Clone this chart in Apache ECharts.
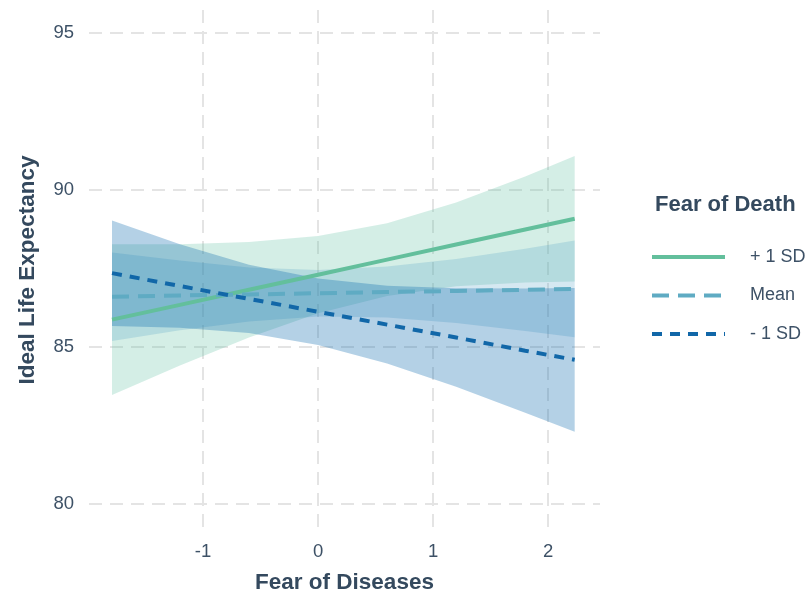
<!DOCTYPE html>
<html>
<head>
<meta charset="utf-8">
<script src="https://cdn.jsdelivr.net/npm/echarts@6/dist/echarts.min.js"></script>
<style>
html,body{margin:0;padding:0;background:#ffffff;}
#chart{width:808px;height:595px;}
</style>
</head>
<body>
<div id="chart"></div>
<script>
// Fear of Diseases (x) sample points
const xVals = [-1.79, -1.2, -0.6, 0, 0.6, 1.2, 1.8, 2.23];

// + 1 SD
const plusLine = [85.87, 86.34, 86.82, 87.30, 87.78, 88.26, 88.74, 89.08];
const plusLow  = [83.47, 84.41, 85.30, 86.07, 86.62, 86.93, 87.05, 87.08];
const plusHigh = [88.27, 88.27, 88.34, 88.53, 88.94, 89.60, 90.43, 91.08];

// Mean
const meanLine = [86.60, 86.64, 86.67, 86.71, 86.75, 86.78, 86.82, 86.85];
const meanLow  = [85.19, 85.53, 85.81, 85.97, 85.94, 85.76, 85.51, 85.31];
const meanHigh = [88.01, 87.75, 87.53, 87.45, 87.56, 87.80, 88.13, 88.39];

// - 1 SD
const minusLine = [87.35, 86.94, 86.53, 86.12, 85.71, 85.30, 84.88, 84.59];
const minusLow  = [85.67, 85.61, 85.44, 85.06, 84.47, 83.73, 82.90, 82.30];
const minusHigh = [89.03, 88.27, 87.62, 87.18, 86.95, 86.87, 86.86, 86.88];

const xTicks = [-1, 0, 1, 2];
const yTicks = [80, 85, 90, 95];
const seriesNames = ['+ 1 SD', 'Mean', '- 1 SD'];

const colors = ['#63bf9c', '#5fabc3', '#1167a8'];
const bandColors = ['rgba(102,194,164,0.28)', 'rgba(80,160,195,0.24)', 'rgba(8,104,172,0.30)'];

const FONT = '"Liberation Sans", Arial, sans-serif';
const TITLE_COLOR = '#34495e';
const LABEL_COLOR = '#3d5166';

function pairs(xs, ys) { return xs.map((x, i) => [x, ys[i]]); }

function bandSeries(low, high, color, z) {
  return {
    type: 'custom',
    silent: true,
    z: z,
    data: [[xVals[0], low[0]]],
    renderItem: function (params, api) {
      const pts = [];
      for (let i = 0; i < xVals.length; i++) pts.push(api.coord([xVals[i], high[i]]));
      for (let i = xVals.length - 1; i >= 0; i--) pts.push(api.coord([xVals[i], low[i]]));
      return { type: 'polygon', shape: { points: pts }, style: { fill: color, stroke: null } };
    }
  };
}

const chart = echarts.init(document.getElementById('chart'), null, { renderer: 'canvas' });

const gridLine = { show: true, lineStyle: { color: '#e4e4e4', width: 2, type: [13, 8] } };

chart.setOption({
  backgroundColor: '#ffffff',
  animation: false,
  title: {
    text: 'Fear of Death',
    left: 650, top: 189,
    textStyle: { fontFamily: FONT, fontSize: 22, fontWeight: 'bold', color: TITLE_COLOR }
  },
  legend: {
    orient: 'vertical',
    left: 645, top: 243,
    itemWidth: 73, itemHeight: 18, itemGap: 20.5,
    data: seriesNames,
    itemStyle: { opacity: 0, borderWidth: 0 },
    lineStyle: { width: 4 },
    textStyle: { fontFamily: FONT, fontSize: 18, lineHeight: 18, color: LABEL_COLOR, padding: [0, 0, 0, 20] }
  },
  grid: { left: 89, right: 208, top: 10, bottom: 65, containLabel: false, outerBoundsMode: 'none' },
  xAxis: {
    type: 'value',
    min: -1.99, max: 2.45,
    name: 'Fear of Diseases',
    nameLocation: 'middle', nameGap: 41,
    nameTextStyle: { fontFamily: FONT, fontSize: 22.5, fontWeight: 'bold', color: TITLE_COLOR },
    axisLine: { show: false },
    axisTick: { show: false, customValues: xTicks },
    axisLabel: { customValues: xTicks, margin: 12, fontFamily: FONT, fontSize: 18.5, color: LABEL_COLOR },
    splitLine: gridLine
  },
  yAxis: {
    type: 'value',
    min: 79.17, max: 95.73,
    name: 'Ideal Life Expectancy',
    nameLocation: 'middle', nameGap: 50, nameRotate: 90,
    nameTextStyle: { fontFamily: FONT, fontSize: 22.5, fontWeight: 'bold', color: TITLE_COLOR },
    axisLine: { show: false },
    axisTick: { show: false, customValues: yTicks },
    axisLabel: { customValues: yTicks, margin: 15, fontFamily: FONT, fontSize: 18.5, color: LABEL_COLOR },
    splitLine: gridLine
  },
  series: [
    bandSeries(plusLow, plusHigh, bandColors[0], 1),
    bandSeries(meanLow, meanHigh, bandColors[1], 1),
    bandSeries(minusLow, minusHigh, bandColors[2], 1),
    {
      name: seriesNames[0], type: 'line', z: 5, symbol: 'none', showSymbol: false,
      data: pairs(xVals, plusLine), color: colors[0],
      lineStyle: { color: colors[0], width: 4, type: 'solid' }
    },
    {
      name: seriesNames[1], type: 'line', z: 5, symbol: 'none', showSymbol: false,
      data: pairs(xVals, meanLine), color: colors[1],
      lineStyle: { color: colors[1], width: 4, type: [17, 9] }
    },
    {
      name: seriesNames[2], type: 'line', z: 5, symbol: 'none', showSymbol: false,
      data: pairs(xVals, minusLine), color: colors[2],
      lineStyle: { color: colors[2], width: 4, type: [10, 8] }
    }
  ]
});
</script>
</body>
</html>
